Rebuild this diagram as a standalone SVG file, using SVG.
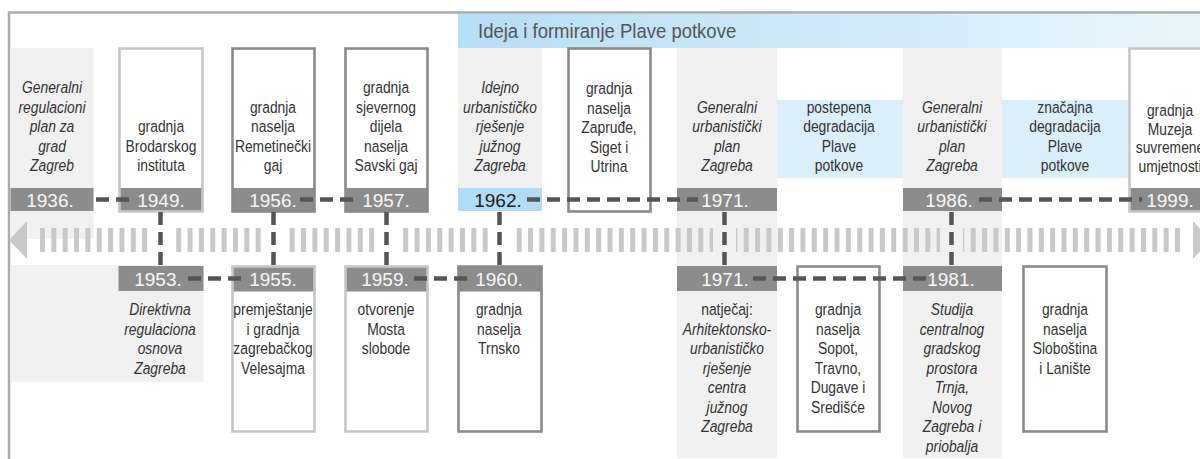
<svg xmlns="http://www.w3.org/2000/svg" width="1200" height="459" viewBox="0 0 1200 459">
<defs>
<linearGradient id="hdr" x1="0" y1="0" x2="1" y2="0">
<stop offset="0" stop-color="#b6def5"/>
<stop offset="1" stop-color="#e9f5fc"/>
</linearGradient>
<style>
.panel{fill:#f1f1f1}
.bpanel{fill:#dbeffb}
.bar{fill:#8c8c8c}
.box{fill:#ffffff}
.boxL{fill:none;stroke:#c6c6c6;stroke-width:2.6}
.boxD{fill:none;stroke:#8a8a8a;stroke-width:2.6}
.t{font-family:'Liberation Sans',Arial,sans-serif;font-size:16.5px;fill:#333;text-anchor:middle}
.i{font-style:italic}
.yr{font-family:'Liberation Sans',Arial,sans-serif;font-size:19px;fill:#f7f7f7;text-anchor:middle}
.yrd{fill:#222}
.con{fill:none;stroke:#555;stroke-width:4.5;stroke-dasharray:13 7}
.hd{font-family:'Liberation Sans',Arial,sans-serif;font-size:19.5px;fill:#555}
</style>
</defs>
<rect width="1200" height="459" fill="#ffffff"/>
<g id="frame">
<line x1="8" y1="12.5" x2="1200" y2="12.5" stroke="#ababab" stroke-width="2.5"/>
<line x1="9" y1="12" x2="9" y2="459" stroke="#ababab" stroke-width="2.5"/>
</g>
<g id="header">
<rect x="458" y="14" width="742" height="34" fill="url(#hdr)"/>
<text class="hd" x="478" y="38" transform="matrix(0.95 0 0 1 23.9 0)">Ideja i formiranje Plave potkove</text>
</g>
<g id="backgrounds">
<rect class="panel" x="10.5" y="48" width="83" height="191"/>
<rect class="panel" x="10.5" y="265" width="193" height="117"/>
<rect class="panel" x="458" y="48" width="84" height="140"/>
<rect class="panel" x="677" y="48" width="100" height="410"/>
<rect class="panel" x="903" y="48" width="99" height="410"/>
</g>
<g id="timeline-axis">
<line x1="40" y1="240" x2="1186" y2="240" stroke="#c9c9c9" stroke-width="24" stroke-dasharray="5 6.35"/>
<polygon points="9,240 27,221 27,259" fill="#c9c9c9"/>
<polygon points="1193,221 1211,240 1193,259" fill="#c9c9c9"/>
<rect x="149" y="226" width="23" height="28" fill="#ffffff"/>
<rect x="262" y="226" width="23" height="28" fill="#ffffff"/>
<rect x="375" y="226" width="23" height="28" fill="#ffffff"/>
<rect x="488" y="226" width="23" height="28" fill="#ffffff"/>
<rect x="713" y="226" width="23" height="28" fill="#f1f1f1"/>
<rect x="940" y="226" width="23" height="28" fill="#f1f1f1"/>
</g>
<g id="n1936">
<rect class="bar" x="10.5" y="188" width="83" height="23"/>
<text class="t i" x="52" y="93.5" transform="matrix(0.84 0 0 1 8.32 0)">Generalni<tspan x="52" dy="19.5">regulacioni</tspan><tspan x="52" dy="19.5">plan za</tspan><tspan x="52" dy="19.5">grad</tspan><tspan x="52" dy="19.5">Zagreb</tspan></text>
<text class="yr" x="50" y="206.5">1936.</text>
</g>
<g id="n1949">
<rect class="box" x="119.5" y="48.5" width="83" height="163"/>
<rect class="bar" x="119.5" y="188" width="83" height="23"/>
<rect class="boxL" x="119.5" y="48.5" width="83" height="163"/>
<text class="t" x="161" y="132.5" transform="matrix(0.84 0 0 1 25.76 0)">gradnja<tspan x="161" dy="19.5">Brodarskog</tspan><tspan x="161" dy="19.5">instituta</tspan></text>
<text class="yr" x="161" y="206.5">1949.</text>
</g>
<g id="n1956">
<rect class="box" x="232.5" y="48.5" width="82" height="163"/>
<rect class="bar" x="232.5" y="188" width="82" height="23"/>
<rect class="boxD" x="232.5" y="48.5" width="82" height="163"/>
<text class="t" x="273" y="113" transform="matrix(0.84 0 0 1 43.68 0)">gradnja<tspan x="273" dy="19.5">naselja</tspan><tspan x="273" dy="19.5">Remetinečki</tspan><tspan x="273" dy="19.5">gaj</tspan></text>
<text class="yr" x="273" y="206.5">1956.</text>
</g>
<g id="n1957">
<rect class="box" x="345.5" y="48.5" width="82" height="163"/>
<rect class="bar" x="345.5" y="188" width="82" height="23"/>
<rect class="boxD" x="345.5" y="48.5" width="82" height="163"/>
<text class="t" x="386" y="93.5" transform="matrix(0.84 0 0 1 61.76 0)">gradnja<tspan x="386" dy="19.5">sjevernog</tspan><tspan x="386" dy="19.5">dijela</tspan><tspan x="386" dy="19.5">naselja</tspan><tspan x="386" dy="19.5">Savski gaj</tspan></text>
<text class="yr" x="386" y="206.5">1957.</text>
</g>
<g id="n1962">
<rect x="458" y="188" width="84" height="23" fill="#b2dcf5"/>
<text class="t i" x="500" y="93.5" transform="matrix(0.84 0 0 1 80 0)">Idejno<tspan x="500" dy="19.5">urbanističko</tspan><tspan x="500" dy="19.5">rješenje</tspan><tspan x="500" dy="19.5">južnog</tspan><tspan x="500" dy="19.5">Zagreba</tspan></text>
<text class="yr yrd" x="498" y="206.5">1962.</text>
</g>
<g id="nZapruđe">
<rect class="boxD" x="568.5" y="48.5" width="82" height="163"/>
<text class="t" x="609" y="94.5" transform="matrix(0.84 0 0 1 97.44 0)">gradnja<tspan x="609" dy="19.5">naselja</tspan><tspan x="609" dy="19.5">Zapruđe,</tspan><tspan x="609" dy="19.5">Siget i</tspan><tspan x="609" dy="19.5">Utrina</tspan></text>
</g>
<g id="n1971top">
<rect class="bar" x="677" y="188" width="100" height="23"/>
<text class="t i" x="727" y="113" transform="matrix(0.84 0 0 1 116.32 0)">Generalni<tspan x="727" dy="19.5">urbanistički</tspan><tspan x="727" dy="19.5">plan</tspan><tspan x="727" dy="19.5">Zagreba</tspan></text>
<text class="yr" x="725" y="206.5">1971.</text>
</g>
<g id="nPostepena">
<rect class="bpanel" x="777" y="100" width="126" height="78"/>
<text class="t" x="839" y="113" transform="matrix(0.84 0 0 1 134.24 0)">postepena<tspan x="839" dy="19.5">degradacija</tspan><tspan x="839" dy="19.5">Plave</tspan><tspan x="839" dy="19.5">potkove</tspan></text>
</g>
<g id="n1986">
<rect class="bar" x="903" y="188" width="99" height="23"/>
<text class="t i" x="952" y="113" transform="matrix(0.84 0 0 1 152.32 0)">Generalni<tspan x="952" dy="19.5">urbanistički</tspan><tspan x="952" dy="19.5">plan</tspan><tspan x="952" dy="19.5">Zagreba</tspan></text>
<text class="yr" x="949" y="206.5">1986.</text>
</g>
<g id="nZnacajna">
<rect class="bpanel" x="1002" y="100" width="126" height="78"/>
<text class="t" x="1065" y="113" transform="matrix(0.84 0 0 1 170.4 0)">značajna<tspan x="1065" dy="19.5">degradacija</tspan><tspan x="1065" dy="19.5">Plave</tspan><tspan x="1065" dy="19.5">potkove</tspan></text>
</g>
<g id="n1999">
<rect class="box" x="1129.5" y="48.5" width="84" height="163"/>
<rect class="bar" x="1129.5" y="188" width="84" height="23"/>
<rect class="boxL" x="1129.5" y="48.5" width="84" height="163"/>
<text class="t" x="1170" y="116" transform="matrix(0.84 0 0 1 187.2 0)">gradnja<tspan x="1170" dy="18.7">Muzeja</tspan><tspan x="1170" dy="18.7">suvremene</tspan><tspan x="1170" dy="18.7">umjetnosti</tspan></text>
<text class="yr" x="1170" y="206.5">1999.</text>
</g>
<g id="n1953">
<rect class="bar" x="118.5" y="266" width="85" height="25"/>
<text class="t i" x="160" y="315.5" transform="matrix(0.84 0 0 1 25.6 0)">Direktivna<tspan x="160" dy="19.5">regulaciona</tspan><tspan x="160" dy="19.5">osnova</tspan><tspan x="160" dy="19.5">Zagreba</tspan></text>
<text class="yr" x="158" y="285.5">1953.</text>
</g>
<g id="n1955">
<rect class="box" x="232.5" y="266.5" width="82" height="165"/>
<rect class="bar" x="232.5" y="266.5" width="82" height="25"/>
<rect class="boxL" x="232.5" y="266.5" width="82" height="165"/>
<text class="t" x="273" y="315.5" transform="matrix(0.84 0 0 1 43.68 0)">premještanje<tspan x="273" dy="19.5">i gradnja</tspan><tspan x="273" dy="19.5">zagrebačkog</tspan><tspan x="273" dy="19.5">Velesajma</tspan></text>
<text class="yr" x="273" y="285.5">1955.</text>
</g>
<g id="n1959">
<rect class="box" x="345.5" y="266.5" width="82" height="165"/>
<rect class="bar" x="345.5" y="266.5" width="82" height="25"/>
<rect class="boxL" x="345.5" y="266.5" width="82" height="165"/>
<text class="t" x="386" y="315.5" transform="matrix(0.84 0 0 1 61.76 0)">otvorenje<tspan x="386" dy="19.5">Mosta</tspan><tspan x="386" dy="19.5">slobode</tspan></text>
<text class="yr" x="385" y="285.5">1959.</text>
</g>
<g id="n1960">
<rect class="box" x="458.5" y="266.5" width="83" height="165"/>
<rect class="bar" x="458.5" y="266.5" width="83" height="25"/>
<rect class="boxD" x="458.5" y="266.5" width="83" height="165"/>
<text class="t" x="499" y="315.5" transform="matrix(0.84 0 0 1 79.84 0)">gradnja<tspan x="499" dy="19.5">naselja</tspan><tspan x="499" dy="19.5">Trnsko</tspan></text>
<text class="yr" x="499" y="285.5">1960.</text>
</g>
<g id="n1971bottom">
<rect class="bar" x="677" y="266" width="100" height="25"/>
<text class="t" x="727" y="315.5" transform="matrix(0.84 0 0 1 116.32 0)">natječaj:<tspan class="i" x="727" dy="19.5">Arhitektonsko-</tspan><tspan class="i" x="727" dy="19.5">urbanističko</tspan><tspan class="i" x="727" dy="19.5">rješenje</tspan><tspan class="i" x="727" dy="19.5">centra</tspan><tspan class="i" x="727" dy="19.5">južnog</tspan><tspan class="i" x="727" dy="19.5">Zagreba</tspan></text>
<text class="yr" x="725" y="285.5">1971.</text>
</g>
<g id="nSopot">
<rect class="boxD" x="797.5" y="266.5" width="82" height="165"/>
<text class="t" x="838" y="315.5" transform="matrix(0.84 0 0 1 134.08 0)">gradnja<tspan x="838" dy="19.5">naselja</tspan><tspan x="838" dy="19.5">Sopot,</tspan><tspan x="838" dy="19.5">Travno,</tspan><tspan x="838" dy="19.5">Dugave i</tspan><tspan x="838" dy="19.5">Središće</tspan></text>
</g>
<g id="n1981">
<rect class="bar" x="903" y="266" width="99" height="25"/>
<text class="t i" x="952" y="315.5" transform="matrix(0.84 0 0 1 152.32 0)">Studija<tspan x="952" dy="19.5">centralnog</tspan><tspan x="952" dy="19.5">gradskog</tspan><tspan x="952" dy="19.5">prostora</tspan><tspan x="952" dy="19.5">Trnja,</tspan><tspan x="952" dy="19.5">Novog</tspan><tspan x="952" dy="19.5">Zagreba i</tspan><tspan x="952" dy="19.5">priobalja</tspan></text>
<text class="yr" x="951" y="285.5">1981.</text>
</g>
<g id="nSlobostina">
<rect class="boxD" x="1023.5" y="266.5" width="83" height="165"/>
<text class="t" x="1065" y="315.5" transform="matrix(0.84 0 0 1 170.4 0)">gradnja<tspan x="1065" dy="19.5">naselja</tspan><tspan x="1065" dy="19.5">Sloboština</tspan><tspan x="1065" dy="19.5">i Lanište</tspan></text>
</g>
<g id="connectors">
<line class="con" x1="96" y1="199.5" x2="136" y2="199.5"/>
<line class="con" x1="300" y1="199.5" x2="360" y2="199.5"/>
<line class="con" x1="527" y1="199.5" x2="698" y2="199.5"/>
<line class="con" x1="979" y1="199.5" x2="1142" y2="199.5"/>
<line class="con" x1="188" y1="278.5" x2="248" y2="278.5"/>
<line class="con" x1="414" y1="278.5" x2="474" y2="278.5"/>
<line class="con" x1="753" y1="278.5" x2="928" y2="278.5"/>
<line class="con" x1="160.5" y1="212" x2="160.5" y2="266"/>
<line class="con" x1="273.5" y1="212" x2="273.5" y2="266"/>
<line class="con" x1="386.5" y1="212" x2="386.5" y2="266"/>
<line class="con" x1="499.5" y1="212" x2="499.5" y2="266"/>
<line class="con" x1="724.5" y1="212" x2="724.5" y2="266"/>
<line class="con" x1="951.5" y1="212" x2="951.5" y2="266"/>
</g>
</svg>
